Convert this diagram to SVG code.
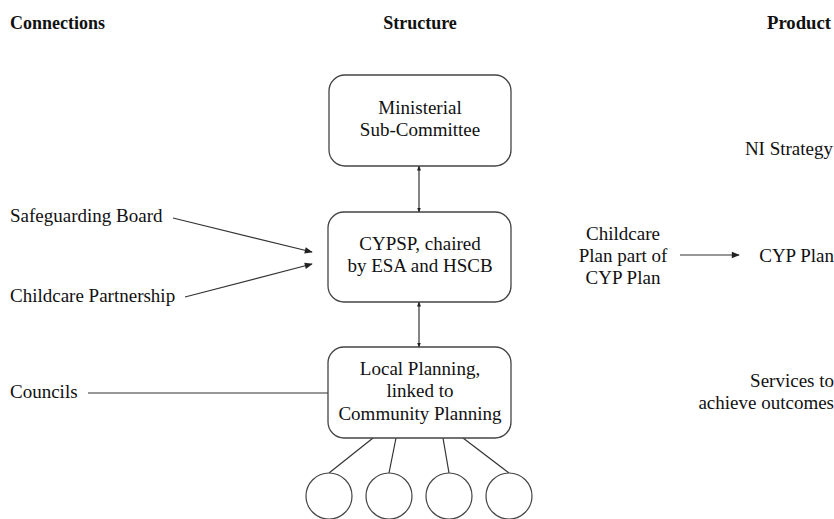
<svg xmlns="http://www.w3.org/2000/svg" width="834" height="519" viewBox="0 0 834 519">
<style>
text{font-family:"Liberation Serif","Times New Roman",serif;font-size:19px;fill:#111}
.h{font-weight:bold;font-size:18px}
.m{text-anchor:middle}
.r{text-anchor:end}
.box{fill:#fff;stroke:#444;stroke-width:1.3}
.ln{stroke:#333;stroke-width:1.2;fill:none}
.c{fill:#fff;stroke:#444;stroke-width:1.2}
</style>
<defs>
<marker id="a" viewBox="0 0 10 10" refX="9" refY="5" markerWidth="9" markerHeight="8" markerUnits="userSpaceOnUse" orient="auto-start-reverse"><path d="M0,1 L10,5 L0,9 z" fill="#222"/></marker>
<marker id="s" viewBox="0 0 10 10" refX="9" refY="5" markerWidth="5" markerHeight="5" markerUnits="userSpaceOnUse" orient="auto-start-reverse"><path d="M0,1 L10,5 L0,9 z" fill="#222"/></marker>
</defs>
<g id="headers">
<text class="h" x="10" y="29">Connections</text>
<text class="h m" x="420" y="29">Structure</text>
<text class="h" x="767" y="29" textLength="64" lengthAdjust="spacingAndGlyphs">Product</text>
</g>
<g id="connectors">
<line class="ln" x1="419" y1="166" x2="419" y2="212" marker-start="url(#s)" marker-end="url(#s)"/>
<line class="ln" x1="419" y1="302" x2="419" y2="347" marker-start="url(#s)" marker-end="url(#s)"/>
<line class="ln" x1="173" y1="218" x2="312" y2="252" marker-end="url(#a)"/>
<line class="ln" x1="185" y1="297" x2="312" y2="264" marker-end="url(#a)"/>
<line class="ln" x1="88" y1="393" x2="328" y2="393"/>
<line class="ln" x1="680" y1="255" x2="739" y2="255" marker-end="url(#a)"/>
<line class="ln" x1="373" y1="438" x2="329" y2="473"/>
<line class="ln" x1="396" y1="438" x2="389" y2="473"/>
<line class="ln" x1="443" y1="438" x2="449" y2="473"/>
<line class="ln" x1="463" y1="438" x2="509" y2="473"/>
</g>
<g id="ministerial">
<rect class="box" x="329" y="75" width="182" height="91" rx="16"/>
<text class="m" x="420" y="114">Ministerial</text>
<text class="m" x="420" y="136">Sub-Committee</text>
</g>
<g id="cypsp">
<rect class="box" x="328" y="212" width="183" height="90" rx="16"/>
<text class="m" x="420" y="250">CYPSP, chaired</text>
<text class="m" x="420" y="272">by ESA and HSCB</text>
</g>
<g id="local">
<rect class="box" x="328" y="347" width="183" height="91" rx="16"/>
<text class="m" x="420" y="375">Local Planning,</text>
<text class="m" x="420" y="397">linked to</text>
<text class="m" x="420" y="420">Community Planning</text>
</g>
<g id="circles">
<circle class="c" cx="329" cy="496" r="23"/>
<circle class="c" cx="389" cy="496" r="23"/>
<circle class="c" cx="449" cy="496" r="23"/>
<circle class="c" cx="509" cy="496" r="23"/>
</g>
<g id="safeguarding"><text x="10" y="222">Safeguarding Board</text></g>
<g id="childcare"><text x="10" y="302">Childcare Partnership</text></g>
<g id="councils"><text x="10" y="398">Councils</text></g>
<g id="childcareplan">
<text class="m" x="623" y="240">Childcare</text>
<text class="m" x="623" y="262">Plan part of</text>
<text class="m" x="623" y="284">CYP Plan</text>
</g>
<g id="ni"><text class="r" x="833" y="155">NI Strategy</text></g>
<g id="cypplan"><text class="r" x="834" y="262">CYP Plan</text></g>
<g id="services">
<text class="r" x="834" y="387">Services to</text>
<text class="r" x="834" y="409">achieve outcomes</text>
</g>
</svg>
